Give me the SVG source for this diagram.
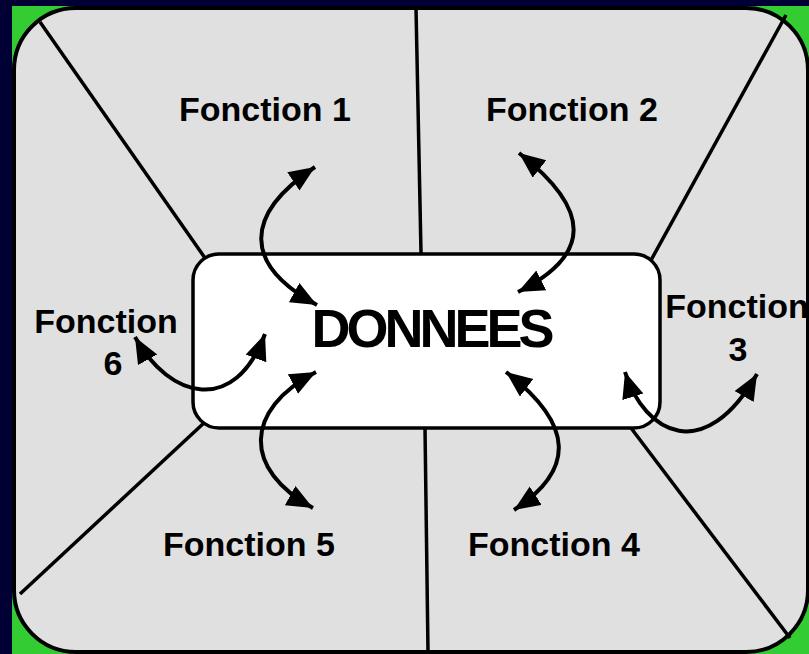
<svg xmlns="http://www.w3.org/2000/svg" width="809" height="654" viewBox="0 0 809 654">
<defs>
<style>
.lbl{font-family:"Liberation Sans",Arial,sans-serif;font-weight:bold;font-size:34px;fill:#000;text-anchor:middle}
.div{stroke:#000;stroke-width:3.5;fill:none}
.arr{stroke:#000;stroke-width:4;fill:none;marker-start:url(#ah);marker-end:url(#ah)}
</style>
<marker id="ah" markerUnits="userSpaceOnUse" markerWidth="28" markerHeight="24" refX="26" refY="11" orient="auto-start-reverse" viewBox="0 0 28 24">
<path d="M0,0 L26,11 L0,22 z" fill="#000"/>
</marker>
</defs>
<rect x="0" y="0" width="809" height="654" fill="#000035"/>
<rect x="12" y="6" width="797" height="648" fill="#33CC33"/>
<g id="panel">
<rect x="14" y="8" width="794" height="644" rx="62" ry="62" fill="#E0E0E0" stroke="#000" stroke-width="4"/>
</g>
<g id="dividers">
<line class="div" x1="40" y1="22" x2="205" y2="258"/>
<line class="div" x1="416" y1="8" x2="421" y2="253"/>
<line class="div" x1="786" y1="15" x2="650" y2="262"/>
<line class="div" x1="631" y1="428" x2="790" y2="638"/>
<line class="div" x1="425" y1="428" x2="428" y2="652"/>
<line class="div" x1="205" y1="422" x2="20" y2="594"/>
</g>
<g id="donnees">
<rect x="193" y="254" width="467" height="174" rx="26" ry="26" fill="#FFFFFF" stroke="#000" stroke-width="3.5"/>
<text x="431" y="347" class="lbl" style="font-size:54px;letter-spacing:-4px">DONNEES</text>
</g>
<g id="f1"><text class="lbl" x="265" y="121">Fonction 1</text></g>
<g id="f2"><text class="lbl" x="572" y="121">Fonction 2</text></g>
<g id="f3"><text class="lbl" x="737" y="318">Fonction</text><text class="lbl" x="738" y="361">3</text></g>
<g id="f4"><text class="lbl" x="554" y="556">Fonction 4</text></g>
<g id="f5"><text class="lbl" x="249" y="556">Fonction 5</text></g>
<g id="f6"><text class="lbl" x="106" y="333">Fonction</text><text class="lbl" x="113" y="375">6</text></g>
<g id="connectors">
<path class="arr" d="M315,167 C243,215 243,265 317,305"/>
<path class="arr" d="M519,153 C592,210 592,255 518,292"/>
<path class="arr" d="M625,372 C645,435 705,465 757,374"/>
<path class="arr" d="M135,337 C170,400 235,415 265,334"/>
<path class="arr" d="M316,372 C243,410 243,470 313,508"/>
<path class="arr" d="M506,372 C575,425 575,470 514,510"/>
</g>
</svg>
